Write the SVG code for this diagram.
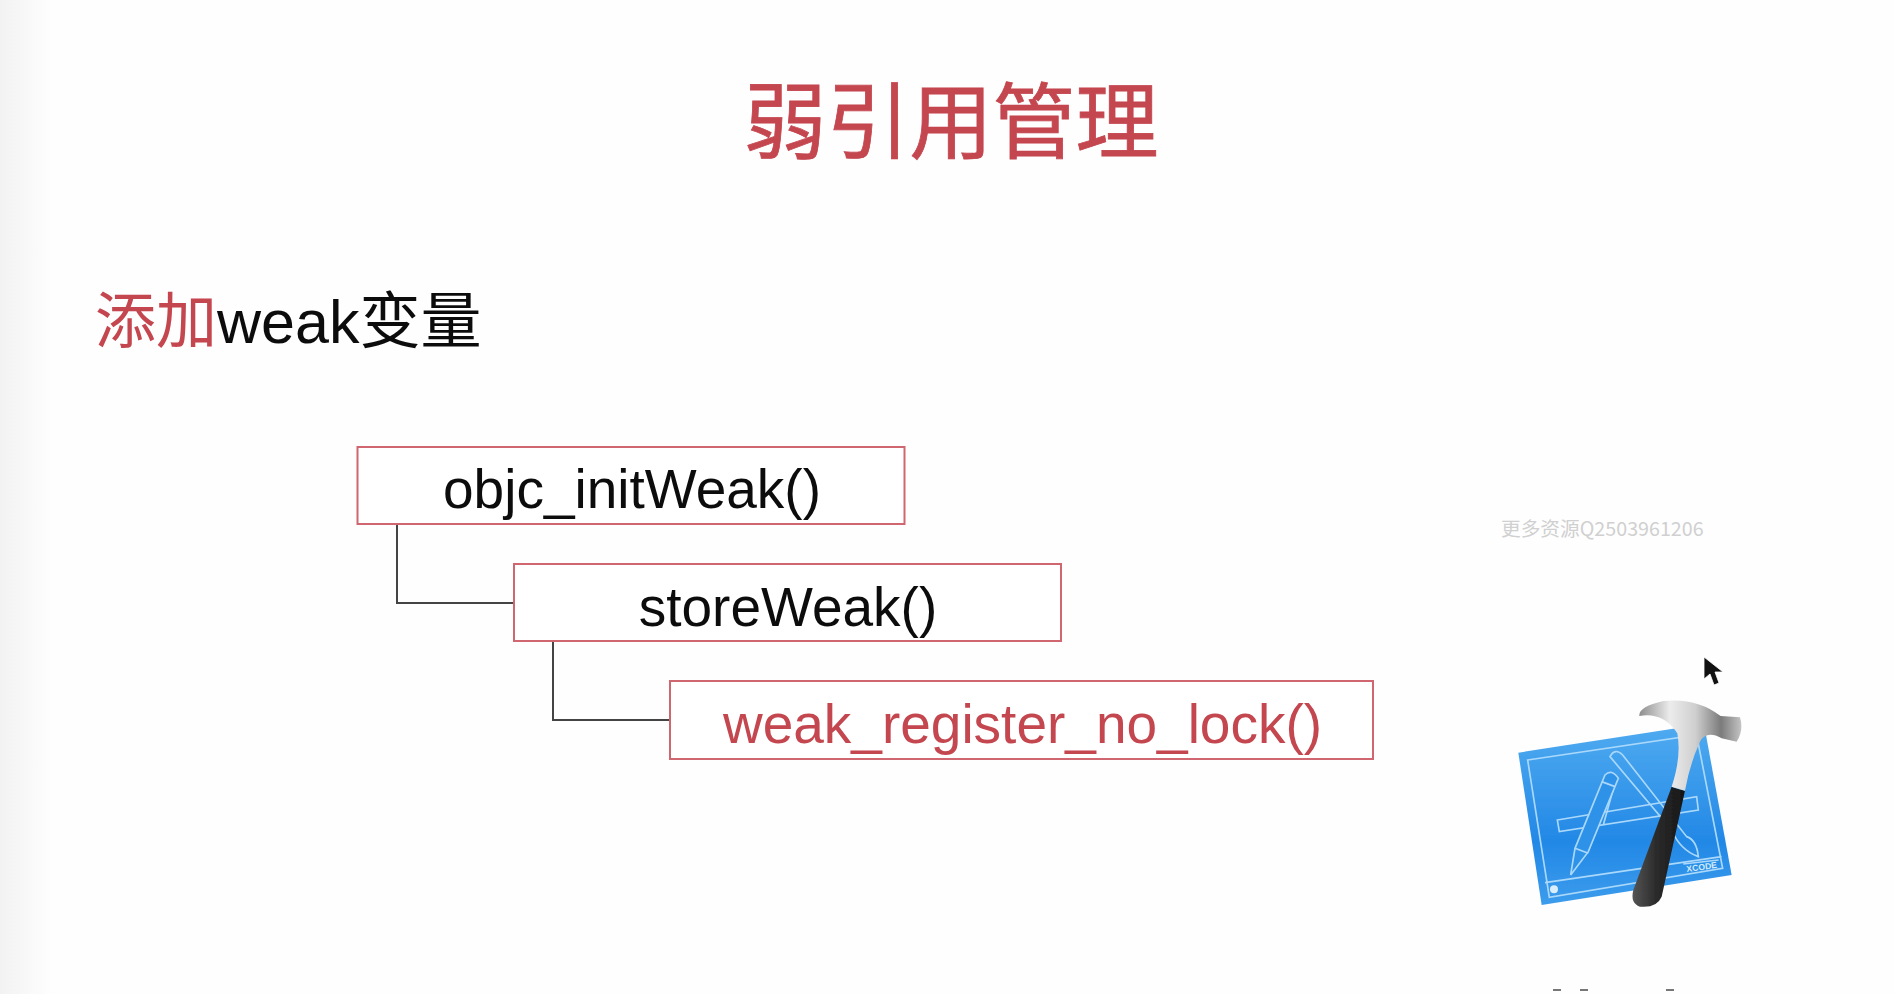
<svg xmlns="http://www.w3.org/2000/svg" width="1894" height="994" viewBox="0 0 1894 994">
<style>
.box{fill:#fff;stroke:#cf6670;stroke-width:2}
.lbl{font-family:"Liberation Sans",Arial,sans-serif;font-size:55px;fill:#0c0c0c;text-anchor:middle}
.red{fill:#c4464f}
.cjk{font-family:"Liberation Sans","Noto Sans CJK SC",sans-serif}
.conn{fill:none;stroke:#444;stroke-width:2}
.wl{fill:none;stroke:#a9d8fb;stroke-width:5}
</style>
<defs>
<linearGradient id="edge" x1="0" x2="1" y1="0" y2="0"><stop offset="0" stop-color="#f2f2f2"/><stop offset="1" stop-color="#fefefe"/></linearGradient>
<linearGradient id="blue" x1="0" y1="0" x2="0" y2="1"><stop offset="0" stop-color="#50abf0"/><stop offset=".65" stop-color="#2288e6"/><stop offset="1" stop-color="#3c9cec"/></linearGradient>
<linearGradient id="steel" x1="0" y1="0" x2="1" y2="0"><stop offset="0" stop-color="#8d8d8d"/><stop offset=".3" stop-color="#ececec"/><stop offset=".55" stop-color="#cfcfcf"/><stop offset=".8" stop-color="#7b7b7b"/><stop offset="1" stop-color="#c4c4c4"/></linearGradient>
<linearGradient id="grip" x1="0" y1="0" x2="1" y2="0"><stop offset="0" stop-color="#555"/><stop offset=".45" stop-color="#2b2b2b"/><stop offset="1" stop-color="#161616"/></linearGradient>
<filter id="soft" x="-5%" y="-5%" width="110%" height="110%"><feGaussianBlur stdDeviation="2"/></filter>
</defs>
<rect width="1894" height="994" fill="#fefefe"/>
<rect width="52" height="994" fill="url(#edge)"/>
<g id="title"><text x="951" y="152" class="cjk red" font-size="83" stroke="#c4464f" stroke-width=".8" text-anchor="middle">弱引用管理</text></g>
<g id="subtitle"><text x="95" y="343" class="cjk" font-size="61" fill="#0c0c0c"><tspan class="red">添加</tspan>weak变量</text></g>
<g id="connectors">
<path class="conn" d="M397 524V603H514"/>
<path class="conn" d="M553 641V720H670"/>
</g>
<g id="node1"><rect class="box" x="357.500" y="447" width="547" height="77"/><text class="lbl" x="632" y="508">objc_initWeak()</text></g>
<g id="node2"><rect class="box" x="514" y="564" width="547" height="77"/><text class="lbl" x="788" y="626">storeWeak()</text></g>
<g id="node3"><rect class="box" x="670" y="681" width="703" height="78"/><text class="lbl red" x="1022.500" y="743">weak_register_no_lock()</text></g>
<g id="watermark"><text x="1501" y="536" font-family="'Noto Sans CJK SC','Noto Sans',sans-serif" font-size="19.700" fill="#d0d0d0">更多资源Q2503961206</text></g>
<g id="xcode-icon" transform="translate(1480 640) scale(.3333)">
<g filter="url(#soft)">
<path d="M115 338L672 252L755 705L185 795Z" fill="url(#blue)"/>
<path class="wl" d="M143 360L650 285L728 685L208 772ZM195 728L725 650M610 672L716 660"/>
<path class="wl" d="M232 540L650 470L655 510L238 575Z"/>
<path class="wl" d="M390 350Q405 322 428 345L620 590Q650 600 655 650Q600 630 575 570ZM410 410L370 555"/>
<path d="M375 405Q395 385 415 415L325 635L272 705L285 625Z" fill="#2f92e8" stroke="#a9d8fb" stroke-width="5"/>
<path class="wl" d="M285 625L325 640M365 425L405 440"/>
<circle cx="222" cy="748" r="12" fill="#d8eefc"/>
<path d="M575 440Q585 445 615 452L545 770Q530 805 480 800Q450 790 460 750Z" fill="url(#grip)"/>
<path d="M575 440Q605 350 592 280Q550 215 478 228Q475 200 550 183Q650 172 722 228L780 232Q792 270 770 305L725 295Q680 270 660 305Q630 370 615 452Z" fill="url(#steel)"/>
</g>
<text x="665" y="690" font-family="Liberation Sans,sans-serif" font-size="26" font-weight="700" fill="#d5ecfc" text-anchor="middle" transform="rotate(-8 665 680)">XCODE</text>
</g>
<g id="cursor"><path d="M1704 657L1704 679L1710 674L1714 685L1719 683L1715 672L1723 672Z" fill="#111" stroke="#fff" stroke-width=".8"/></g>
<g id="fragments" fill="#777"><rect x="1553" y="989" width="8" height="2"/><rect x="1580" y="989" width="8" height="2"/><rect x="1666" y="989" width="8" height="2"/></g>
</svg>
